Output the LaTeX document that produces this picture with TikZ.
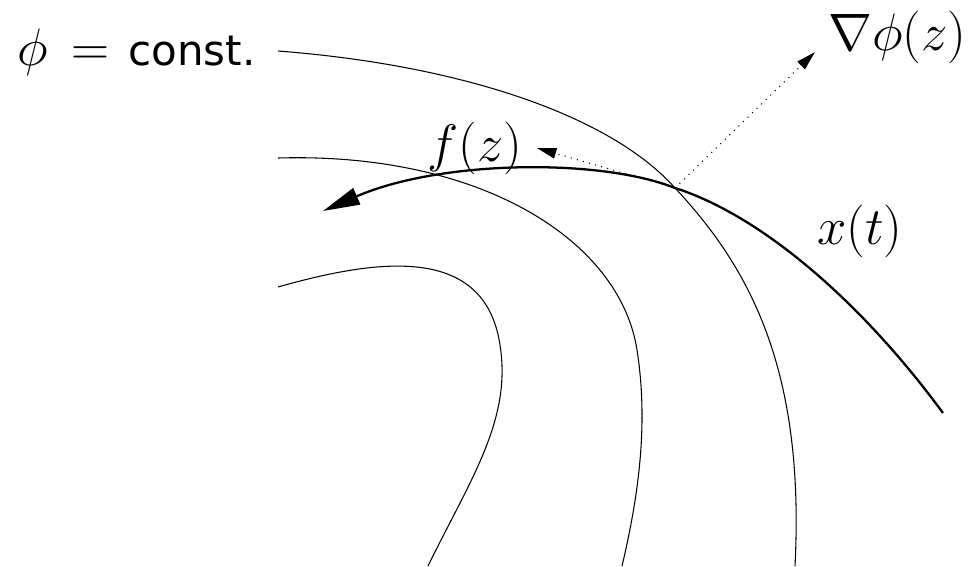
\documentclass[tikz,border=0pt]{standalone}
\usepackage{fontspec}
\newfontfamily\labelfont{DejaVu Sans}
\usetikzlibrary{arrows.meta}

\newcommand{\biglabel}[1]{\scalebox{1.205}{\Huge #1}}

\tikzset{
  levelline/.style={line width=0.6pt},
  trajectory/.style={line width=1.3pt, -{Triangle[length=21pt,width=10pt]}},
  fieldarrow/.style={line width=0.6pt, dash pattern=on 0.6pt off 3pt, -{Triangle[length=11pt,width=6pt]}},
  bigtext/.style={inner sep=0pt}
}

\begin{document}
\begin{tikzpicture}[x=0.02cm, y=-0.02cm]
\useasboundingbox (0,0) rectangle (977,566);

% level sets
\draw[levelline] (278,51) .. controls (460,65) and (610,115) .. (675,188)
  .. controls (750,268) and (805,370) .. (795,566);
\draw[levelline] (278,158) .. controls (480,152) and (620,240) .. (637,350)
  .. controls (648,420) and (640,490) .. (622,566);
\draw[levelline] (278,287) .. controls (380,258) and (485,245) .. (500,345)
  .. controls (512,420) and (470,480) .. (428,566);

% trajectory x(t)
\draw[trajectory] (943,413) .. controls (860,300) and (760,215) .. (675,188)
  .. controls (600,158) and (440,160) .. (323,211);

% labels
\node[bigtext, anchor=base west] (level) at (17,65) {\biglabel{$\phi\,=$}\hspace{11pt}\scalebox{0.96}{\Huge\labelfont const.}};
\node[bigtext, anchor=base west] (fz) at (427,161) {\biglabel{$f(z)$}};
\node[bigtext, anchor=base west] (xt) at (817,244) {\biglabel{$x(t)$}};
\node[bigtext, anchor=base west] (grad) at (828,50) {\biglabel{$\nabla\phi(z)$}};

% vectors at the crossing point
\coordinate (cross) at (675,188);
\coordinate (gradtip) at (815,52);
\coordinate (ftip) at (537,148);
\draw[fieldarrow] (cross) -- (ftip);
\draw[fieldarrow] (cross) -- (gradtip);

\end{tikzpicture}
\end{document}
